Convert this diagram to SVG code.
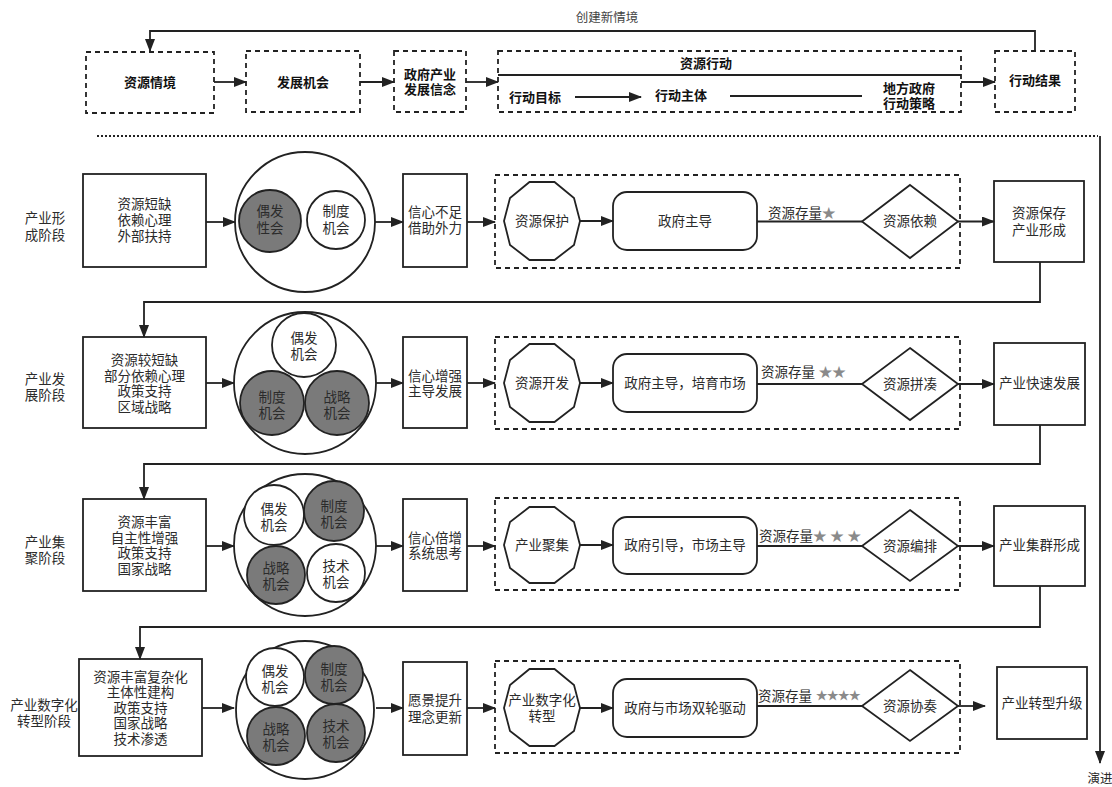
<svg xmlns="http://www.w3.org/2000/svg" width="1112" height="787" viewBox="0 0 1112 787">
<style>
text{font-family:"Liberation Sans","Noto Sans CJK SC",sans-serif;dominant-baseline:central;text-anchor:middle;fill:#2b2b2b;font-size:13.5px}
.hb{font-weight:bold;font-size:13px;fill:#111}
.st{fill:#8a8a8a}
.dash{fill:#fff;stroke:#222;stroke-width:1.8;stroke-dasharray:5 4}
.box{fill:#fff;stroke:#222;stroke-width:1.8}
.big{fill:#fff;stroke:#222;stroke-width:1.8}
.w{fill:#fff;stroke:#222;stroke-width:1.8}
.g{fill:#7a7a7a;stroke:#222;stroke-width:1.8}
.ln{fill:none;stroke:#222;stroke-width:1.8}
.ar{fill:none;stroke:#222;stroke-width:1.8;marker-end:url(#ah)}
.lbl{text-anchor:start}
</style>
<defs>
<marker id="ah" markerWidth="13" markerHeight="10" refX="12" refY="5" orient="auto" markerUnits="userSpaceOnUse">
<path d="M0,0 L13,5 L0,10 z" fill="#222"/>
</marker>
</defs>

<!-- Header -->
<g id="hdr-feedback-label"><text x="607" y="18" style="fill:#444;font-size:12.5px">创建新情境</text></g>
<g id="h-situation"><rect class="dash" x="86" y="52" width="128" height="61"/><text class="hb" x="150" y="82">资源情境</text></g>
<g id="h-opportunity"><rect class="dash" x="246" y="51" width="114" height="61"/><text class="hb" x="303" y="82">发展机会</text></g>
<g id="h-belief"><rect class="dash" x="394" y="51" width="72" height="61"/><text class="hb" x="430" y="74">政府产业</text><text class="hb" x="430" y="89">发展信念</text></g>
<g id="h-action">
<rect class="dash" x="498" y="51" width="463" height="61"/>
<line class="ln" x1="498" y1="75" x2="961" y2="75"/>
<text class="hb" x="706" y="63">资源行动</text>
<text class="hb" x="535" y="97">行动目标</text>
<line class="ar" x1="575" y1="97" x2="641" y2="97"/>
<text class="hb" x="681" y="95">行动主体</text>
<line class="ln" x1="730" y1="96" x2="862" y2="96"/>
<text class="hb" x="909" y="88">地方政府</text>
<text class="hb" x="909" y="103">行动策略</text>
</g>
<g id="h-result"><rect class="dash" x="995" y="51" width="80" height="61"/><text class="hb" x="1035" y="80">行动结果</text></g>

<!-- Stage labels -->
<g id="stage1"><text x="45" y="218">产业形</text><text x="45" y="235">成阶段</text></g>
<g id="stage2"><text x="45" y="379">产业发</text><text x="45" y="395">展阶段</text></g>
<g id="stage3"><text x="45" y="542">产业集</text><text x="45" y="558">聚阶段</text></g>
<g id="stage4"><text x="44" y="705">产业数字化</text><text x="44" y="721">转型阶段</text></g>

<!-- Row 1 -->
<g id="r1-situation"><rect class="box" x="83" y="174" width="123" height="93"/><text x="144.5" y="204">资源短缺</text><text x="144.5" y="220">依赖心理</text><text x="144.5" y="236">外部扶持</text></g>
<g id="r1-opp">
<circle class="big" cx="305" cy="222" r="70"/>
<circle class="g" cx="270" cy="221" r="31"/><text x="270" y="211">偶发</text><text x="270" y="228">性会</text>
<circle class="w" cx="336" cy="220" r="29"/><text x="336" y="211">制度</text><text x="336" y="228">机会</text>
</g>
<g id="r1-belief"><rect class="box" x="403" y="174" width="64" height="93"/><text x="435" y="212">信心不足</text><text x="435" y="228">借助外力</text></g>
<g id="r1-action">
<rect class="dash" x="495" y="175" width="465" height="93"/>
<polygon class="w" points="529.5,182 554.5,182 574,198 580,221 574,245 554.5,260 529.5,260 510,245 504,221 510,198"/>
<text x="542" y="221">资源保护</text>
<rect class="w" x="613" y="192" width="144" height="58" rx="14"/>
<text x="685" y="221">政府主导</text>
<polygon class="w" points="910,185 958,221.5 910,258 862,221.5"/>
<text x="910" y="221.5">资源依赖</text>
</g>
<g id="r1-result"><rect class="box" x="994" y="181" width="90" height="81"/><text x="1039" y="213">资源保存</text><text x="1039" y="230">产业形成</text></g>

<!-- Row 2 -->
<g id="r2-situation"><rect class="box" x="83" y="337" width="123" height="91"/><text x="144.5" y="360">资源较短缺</text><text x="144.5" y="376">部分依赖心理</text><text x="144.5" y="391.5">政策支持</text><text x="144.5" y="407">区域战略</text></g>
<g id="r2-opp">
<circle class="big" cx="305" cy="383" r="71"/>
<circle class="w" cx="304" cy="345" r="32"/><text x="304" y="338">偶发</text><text x="304" y="354">机会</text>
<circle class="g" cx="272" cy="403" r="32"/><text x="272" y="397">制度</text><text x="272" y="413">机会</text>
<circle class="g" cx="337" cy="403" r="32"/><text x="337" y="397">战略</text><text x="337" y="413">机会</text>
</g>
<g id="r2-belief"><rect class="box" x="403" y="337" width="64" height="91"/><text x="435" y="376">信心增强</text><text x="435" y="391.5">主导发展</text></g>
<g id="r2-action">
<rect class="dash" x="495" y="337" width="465" height="92"/>
<polygon class="w" points="529.5,344 554.5,344 574,360 580,383 574,407 554.5,422 529.5,422 510,407 504,383 510,360"/>
<text x="542" y="383">资源开发</text>
<rect class="w" x="613" y="354" width="144" height="58" rx="14"/>
<text x="685" y="383">政府主导，培育市场</text>
<polygon class="w" points="910,348 958,384 910,420 862,384"/>
<text x="910" y="384">资源拼凑</text>
</g>
<g id="r2-result"><rect class="box" x="994" y="343" width="91" height="82"/><text x="1039.5" y="383">产业快速发展</text></g>

<!-- Row 3 -->
<g id="r3-situation"><rect class="box" x="83" y="499" width="123" height="92"/><text x="144.5" y="522">资源丰富</text><text x="144.5" y="538">自主性增强</text><text x="144.5" y="553.5">政策支持</text><text x="144.5" y="569">国家战略</text></g>
<g id="r3-opp">
<circle class="big" cx="305" cy="545" r="71"/>
<circle class="w" cx="274" cy="515" r="30"/><text x="274" y="509">偶发</text><text x="274" y="525">机会</text>
<circle class="g" cx="334" cy="511" r="30"/><text x="334" y="506">制度</text><text x="334" y="522">机会</text>
<circle class="g" cx="276" cy="575" r="29"/><text x="276" y="568">战略</text><text x="276" y="584">机会</text>
<circle class="w" cx="336" cy="573" r="29"/><text x="336" y="566">技术</text><text x="336" y="582">机会</text>
</g>
<g id="r3-belief"><rect class="box" x="403" y="499" width="64" height="92"/><text x="435" y="538">信心倍增</text><text x="435" y="553.5">系统思考</text></g>
<g id="r3-action">
<rect class="dash" x="495" y="498" width="465" height="92"/>
<polygon class="w" points="529.5,507 554.5,507 574,522 580,545 574,568 554.5,583 529.5,583 510,568 504,545 510,522"/>
<text x="542" y="545">产业聚集</text>
<rect class="w" x="613" y="517" width="144" height="57" rx="14"/>
<text x="685" y="545.5">政府引导，市场主导</text>
<polygon class="w" points="910,510 958,546 910,581 862,546"/>
<text x="910" y="546">资源编排</text>
</g>
<g id="r3-result"><rect class="box" x="994" y="506" width="91" height="80"/><text x="1039.5" y="545">产业集群形成</text></g>

<!-- Row 4 -->
<g id="r4-situation"><rect class="box" x="79" y="659" width="123" height="97"/><text x="140.5" y="677">资源丰富复杂化</text><text x="140.5" y="692.5">主体性建构</text><text x="140.5" y="708">政策支持</text><text x="140.5" y="723.5">国家战略</text><text x="140.5" y="739">技术渗透</text></g>
<g id="r4-opp">
<circle class="big" cx="305" cy="710" r="69"/>
<circle class="w" cx="275" cy="677" r="29"/><text x="275" y="671">偶发</text><text x="275" y="687">机会</text>
<circle class="g" cx="334" cy="675" r="29"/><text x="334" y="669">制度</text><text x="334" y="685">机会</text>
<circle class="g" cx="276" cy="736" r="29"/><text x="276" y="729">战略</text><text x="276" y="745">机会</text>
<circle class="g" cx="336" cy="733" r="29"/><text x="336" y="726">技术</text><text x="336" y="742">机会</text>
</g>
<g id="r4-belief"><rect class="box" x="403" y="662" width="64" height="93"/><text x="435" y="700">愿景提升</text><text x="435" y="717">理念更新</text></g>
<g id="r4-action">
<rect class="dash" x="495" y="661" width="465" height="92"/>
<polygon class="w" points="529.5,669 554.5,669 574,685 580,708 574,731 554.5,746 529.5,746 510,731 504,708 510,685"/>
<text x="542" y="700">产业数字化</text><text x="542" y="716">转型</text>
<rect class="w" x="613" y="679" width="144" height="58" rx="14"/>
<text x="685" y="708">政府与市场双轮驱动</text>
<polygon class="w" points="910,670 958,706 910,741 862,706"/>
<text x="910" y="706">资源协奏</text>
</g>
<g id="r4-result"><rect class="box" x="997" y="667" width="90" height="72"/><text x="1042" y="703">产业转型升级</text></g>

<!-- Connectors -->
<g id="connectors">
<polyline class="ar" points="1035,51 1035,31 150,31 150,51"/>
<line class="ar" x1="214" y1="82" x2="246" y2="82"/>
<line class="ar" x1="360" y1="82" x2="394" y2="82"/>
<line class="ar" x1="466" y1="82" x2="498" y2="82"/>
<line class="ar" x1="961" y1="82" x2="995" y2="82"/>
<line x1="97" y1="136" x2="1098" y2="136" stroke="#222" stroke-width="2" stroke-dasharray="2 2"/>
<line class="ar" x1="1100" y1="136" x2="1100" y2="763"/>
<text x="1100" y="779" style="font-size:12.5px">演进</text>

<line class="ar" x1="206" y1="222" x2="235" y2="222"/>
<line class="ar" x1="375" y1="222" x2="403" y2="222"/>
<line class="ar" x1="467" y1="222" x2="495" y2="222"/>
<line class="ar" x1="580" y1="221" x2="613" y2="221"/>
<line class="ln" x1="757" y1="221.5" x2="862" y2="221.5"/>
<text class="lbl" x="768" y="213">资源存量<tspan class="st">★</tspan></text>
<line class="ar" x1="958" y1="221.5" x2="994" y2="221.5"/>
<polyline class="ar" points="1040,262 1040,302 144,302 144,337"/>

<line class="ar" x1="206" y1="383" x2="234" y2="383"/>
<line class="ar" x1="376" y1="383" x2="403" y2="383"/>
<line class="ar" x1="467" y1="383" x2="495" y2="383"/>
<line class="ar" x1="580" y1="383" x2="613" y2="383"/>
<line class="ln" x1="757" y1="384" x2="862" y2="384"/>
<text class="lbl" x="761" y="372">资源存量 <tspan class="st">★★</tspan></text>
<line class="ar" x1="958" y1="384" x2="994" y2="384"/>
<polyline class="ar" points="1040,425 1040,464 144,464 144,499"/>

<line class="ar" x1="206" y1="546" x2="234" y2="546"/>
<line class="ar" x1="376" y1="546" x2="403" y2="546"/>
<line class="ar" x1="467" y1="546" x2="495" y2="546"/>
<line class="ar" x1="580" y1="545" x2="613" y2="545"/>
<line class="ln" x1="757" y1="546" x2="862" y2="546"/>
<text class="lbl" x="759" y="536">资源存量<tspan class="st">★ ★ ★</tspan></text>
<line class="ar" x1="958" y1="546" x2="994" y2="546"/>
<polyline class="ar" points="1040,586 1040,627 140,627 140,659"/>

<line class="ar" x1="202" y1="708" x2="234" y2="708"/>
<line class="ar" x1="376" y1="708" x2="403" y2="708"/>
<line class="ar" x1="467" y1="708" x2="495" y2="708"/>
<line class="ar" x1="580" y1="708" x2="613" y2="708"/>
<line class="ln" x1="757" y1="706" x2="862" y2="706"/>
<text class="lbl" x="758" y="696">资源存量 <tspan class="st" style="font-size:12px;letter-spacing:-1px">★★★★</tspan></text>
<line class="ar" x1="958" y1="706" x2="985" y2="706"/>
</g>
</svg>
